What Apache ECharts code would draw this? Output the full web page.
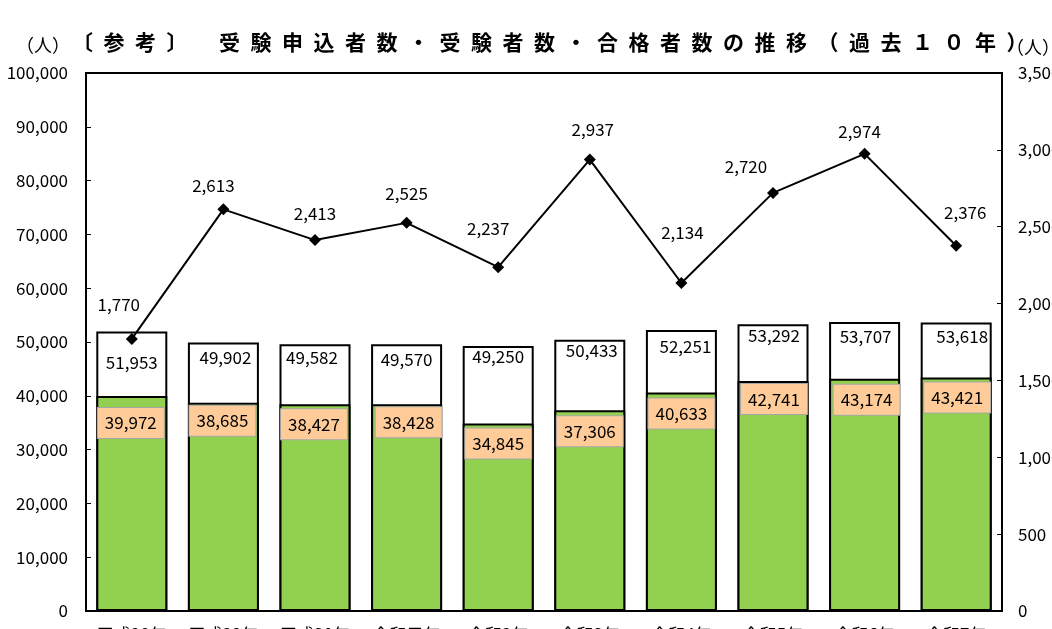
<!DOCTYPE html>
<html>
<head>
<meta charset="utf-8">
<script src="https://cdn.jsdelivr.net/npm/echarts@6/dist/echarts.min.js"></script>
<style>
html, body { margin: 0; padding: 0; background: #fff; }
#main { width: 1052px; height: 629px; }
</style>
</head>
<body>
<div id="main"></div>
<script>
// data
let years = ['平成28年', '平成29年', '平成30年', '令和元年', '令和2年', '令和3年', '令和4年', '令和5年', '令和6年', '令和7年'];
let applicants = [51953, 49902, 49582, 49570, 49250, 50433, 52251, 53292, 53707, 53618];
let examinees = [39972, 38685, 38427, 38428, 34845, 37306, 40633, 42741, 43174, 43421];
let passers = [1770, 2613, 2413, 2525, 2237, 2937, 2134, 2720, 2974, 2376];

// label nudges (as placed in the original sheet)
let appOffset = [[0, 22], [2, 6], [-3, 4], [0, 6], [0, 2], [2, 2], [4, 8], [1, 2], [1, 5], [6, 5]];
let exOffset = [[-1, 12], [-1, 3], [-1, 5], [2, 3], [0, 5], [0, 6], [0, 6], [1, 3], [2, 6], [1, 5]];
let passOffset = [[-13, -19], [-10, -9], [0, -12], [0, -14], [-10, -24], [3, -15], [1, -35], [-27, -11], [-5, -7], [9, -18]];

let font = '"Noto Sans CJK JP", sans-serif';
let fmt = v => echarts.format.addCommas(v);
let titleText = '〔参考〕'.split('').join('\u2002') + '\u2002\u2002\u2002' +
    '受験申込者数・受験者数・合格者数の推移（過去１０年）'.split('').join('\u2002');

let chart = echarts.init(document.getElementById('main'));
let option = {
    animation: false,
    textStyle: { fontFamily: font },
    grid: {
        left: 86,
        right: 50,
        top: 73,
        bottom: 18,
        show: true,
        borderColor: '#000',
        borderWidth: 2,
        containLabel: false,
        outerBoundsMode: 'none'
    },
    graphic: [
        {
            type: 'text', left: 72, top: 32,
            style: { text: titleText, font: 'bold 21px ' + font, fill: '#000' }
        },
        {
            type: 'text', left: 16, top: 36,
            style: { text: '（人）', font: '18px ' + font, fill: '#000' }
        },
        {
            type: 'text', left: 1006, top: 38,
            style: { text: '（人）', font: '18px ' + font, fill: '#000' }
        }
    ],
    xAxis: {
        type: 'category',
        data: years,
        axisLine: { lineStyle: { color: '#000', width: 2 } },
        axisTick: { inside: true, length: 5, lineStyle: { color: '#000' } },
        axisLabel: { interval: 0, margin: 15, fontSize: 17, color: '#000', fontFamily: font }
    },
    yAxis: [
        {
            type: 'value',
            min: 0,
            max: 100000,
            interval: 10000,
            splitLine: { show: false },
            axisLine: { show: true, lineStyle: { color: '#000', width: 2 } },
            axisTick: { show: true, inside: true, length: 5, lineStyle: { color: '#000' } },
            axisLabel: { margin: 18, fontSize: 17, color: '#000', fontFamily: font, formatter: fmt }
        },
        {
            type: 'value',
            min: 0,
            max: 3500,
            interval: 500,
            position: 'right',
            splitLine: { show: false },
            axisLine: { show: true, lineStyle: { color: '#000', width: 2 } },
            axisTick: { show: true, inside: true, length: 5, lineStyle: { color: '#000' } },
            axisLabel: { margin: 16, fontSize: 17, color: '#000', fontFamily: font, formatter: fmt }
        }
    ],
    series: [
        {
            name: '受験申込者数',
            type: 'bar',
            barWidth: 71,
            itemStyle: { color: '#fff', borderColor: '#000', borderWidth: 2 },
            label: {
                show: true,
                position: 'insideTop',
                distance: 0,
                fontSize: 17,
                lineHeight: 18,
                color: '#000',
                fontFamily: font,
                formatter: p => fmt(p.value)
            },
            data: applicants.map((v, i) => ({ value: v, label: { offset: appOffset[i] } }))
        },
        {
            name: '受験者数',
            type: 'bar',
            barWidth: 71,
            barGap: '-100%',
            itemStyle: { color: '#92D050', borderColor: '#000', borderWidth: 2 },
            label: {
                show: true,
                position: 'insideTop',
                distance: 0,
                fontSize: 17,
                lineHeight: 18,
                color: '#000',
                fontFamily: font,
                backgroundColor: '#FFCC99',
                borderColor: '#A6A6A6',
                borderWidth: 1,
                padding: [6, 7],
                formatter: p => fmt(p.value)
            },
            data: examinees.map((v, i) => ({ value: v, label: { offset: exOffset[i] } }))
        },
        {
            name: '合格者数',
            type: 'line',
            yAxisIndex: 1,
            z: 5,
            symbol: 'diamond',
            symbolSize: [12, 12],
            itemStyle: { color: '#000' },
            lineStyle: { color: '#000', width: 2 },
            label: {
                show: true,
                position: 'top',
                distance: 0,
                fontSize: 17,
                lineHeight: 18,
                color: '#000',
                fontFamily: font,
                formatter: p => fmt(p.value)
            },
            data: passers.map((v, i) => ({ value: v, label: { offset: passOffset[i] } }))
        }
    ]
};
chart.setOption(option);
</script>
</body>
</html>
